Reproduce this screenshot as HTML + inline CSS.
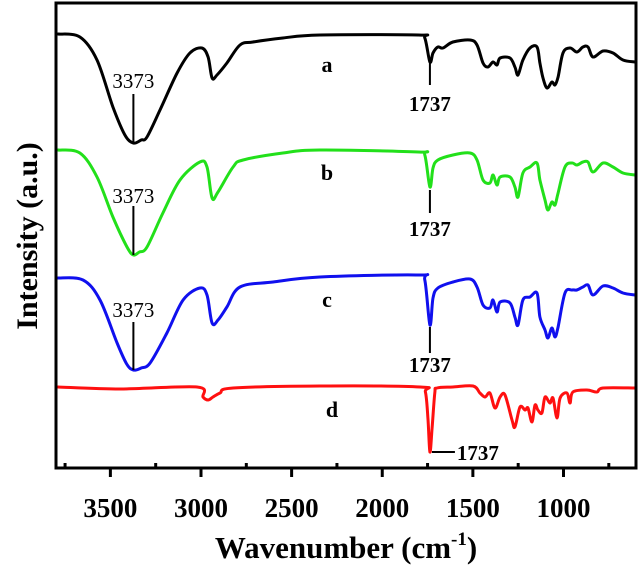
<!DOCTYPE html>
<html><head><meta charset="utf-8">
<style>
html,body{margin:0;padding:0;background:#fff;}
svg{display:block;font-family:"Liberation Serif",serif;}
</style></head>
<body>
<svg id="chart" width="641" height="566" viewBox="0 0 641 566"></svg>
<script>
const xTicks=[3500,3000,2500,2000,1500,1000];
const xTickLabels=["3500","3000","2500","2000","1500","1000"];
const seriesNames=["a","b","c","d"];
const seriesColors=["#000000","#22e01a","#1010ee","#ff1010"];
const seriesA=[[3789,434],[3668,431],[3574,408],[3486,361],[3420,333],[3373,325],[3330,328],[3298,331],[3226,358],[3132,395],[3061,415],[2995,420],[2961,411],[2939,390],[2912,393],[2857,405],[2785,423],[2713,426],[2548,430],[2344,433],[1800,433],[1765,430],[1737,406],[1720,415],[1693,421],[1665,420],[1610,426],[1516,428],[1477,423],[1444,405],[1417,401],[1389,406],[1367,403],[1350,410],[1295,410],[1268,401],[1251,393],[1224,408],[1185,420],[1146,421],[1130,405],[1113,390],[1091,380],[1064,386],[1047,383],[1030,391],[1003,415],[964,420],[926,416],[893,421],[865,421],[837,411],[782,417],[727,415],[672,408],[606,406]];
const seriesB=[[3789,318],[3668,315],[3574,291],[3486,251],[3408,221],[3373,213],[3340,216],[3298,221],[3210,255],[3116,288],[3006,306],[2967,301],[2939,270],[2906,276],[2823,301],[2768,308],[2548,315],[2344,318],[1800,316],[1765,313],[1737,281],[1720,300],[1693,308],[1610,313],[1516,315],[1477,308],[1444,288],[1406,285],[1389,293],[1367,283],[1350,291],[1295,291],[1268,281],[1251,271],[1224,295],[1185,301],[1146,305],[1130,288],[1102,268],[1086,258],[1064,266],[1047,263],[1030,275],[992,301],[953,305],[926,303],[893,306],[865,306],[837,296],[782,305],[727,301],[672,295],[606,293]];
const seriesC=[[3789,190],[3651,188],[3557,168],[3463,125],[3410,104],[3373,98],[3330,100],[3281,105],[3188,135],[3099,168],[3006,180],[2967,173],[2939,145],[2906,148],[2857,161],[2785,181],[2603,186],[2344,191],[1800,193],[1765,188],[1737,143],[1720,170],[1693,180],[1610,186],[1516,189],[1477,181],[1444,163],[1406,160],[1389,168],[1367,156],[1350,166],[1295,165],[1268,151],[1251,143],[1224,168],[1185,171],[1146,175],[1130,151],[1102,138],[1086,130],[1064,140],[1047,131],[1030,141],[992,175],[953,178],[926,178],[893,181],[865,183],[837,173],[782,182],[727,180],[672,175],[606,173]];
const seriesD=[[3789,81],[3447,79],[3022,81],[2989,71],[2961,68],[2934,71],[2895,75],[2823,80],[2344,82],[1790,81],[1762,76],[1748,50],[1737,16],[1725,40],[1710,75],[1698,80],[1610,81],[1499,82],[1461,75],[1433,71],[1406,75],[1378,60],[1350,71],[1323,73],[1284,48],[1268,41],[1240,61],[1212,58],[1196,60],[1174,46],[1157,63],[1141,58],[1119,55],[1102,71],[1075,65],[1058,70],[1036,50],[1019,70],[981,75],[964,65],[948,76],[871,78],[816,76],[782,80],[606,80]];
const allSeries=[seriesA,seriesB,seriesC,seriesD];

const NS="http://www.w3.org/2000/svg";
const svg=document.getElementById('chart');
const L=56,R=636,T=3,B=468;
const X0=3800,X1=600;
function xs(w){return L+(X0-w)/(X0-X1)*(R-L);}
function ys(v){return B-v;}
function mk(tag,attrs,parent){const e=document.createElementNS(NS,tag);for(const k in attrs)e.setAttribute(k,attrs[k]);(parent||svg).appendChild(e);return e;}
function smoothPath(pts){
  let d='M'+pts[0][0].toFixed(1)+','+pts[0][1].toFixed(1);
  for(let i=0;i<pts.length-1;i++){
    const p0=pts[i-1]||pts[i],p1=pts[i],p2=pts[i+1],p3=pts[i+2]||p2;
    const k=1/6;
    const c1x=p1[0]+(p2[0]-p0[0])*k,c1y=p1[1]+(p2[1]-p0[1])*k;
    const c2x=p2[0]-(p3[0]-p1[0])*k,c2y=p2[1]-(p3[1]-p1[1])*k;
    d+=' C'+c1x.toFixed(1)+','+c1y.toFixed(1)+' '+c2x.toFixed(1)+','+c2y.toFixed(1)+' '+p2[0].toFixed(1)+','+p2[1].toFixed(1);
  }
  return d;
}

allSeries.forEach((s,i)=>{
  const pts=s.map(p=>[xs(p[0]),ys(p[1])]);
  const p=mk('path',{d:smoothPath(pts),fill:'none',stroke:seriesColors[i],'stroke-width':3,'stroke-linejoin':'round','stroke-linecap':'round'});
  
  
});

const fr=mk('rect',{x:L,y:T,width:R-L,height:B-T,fill:'none',stroke:'#000','stroke-width':3});



xTicks.forEach((t,i)=>{
  const x=xs(t);
  const tk=mk('line',{x1:x,x2:x,y1:B,y2:B+9,stroke:'#000','stroke-width':3});
  
  
  const tl=mk('text',{x:x,y:517,'text-anchor':'middle','font-size':27,'font-weight':'bold'});
  tl.textContent=xTickLabels[i];
  
  
});
for(let w=3750;w>600;w-=250){
  if(w%500===0)continue;
  const x=xs(w);
  const m=mk('line',{x1:x,x2:x,y1:B,y2:B-5,stroke:'#000','stroke-width':3});
  
  
}

function txt(s,x,y,size,weight,name,anchor){
  const t=mk('text',{x:x,y:y,'font-size':size,'font-weight':weight,'text-anchor':anchor||'middle'});
  t.textContent=s;
  
  
  return t;
}
function ln(x1,y1,x2,y2,name){
  const l=mk('line',{x1:x1,y1:y1,x2:x2,y2:y2,stroke:'#000','stroke-width':2});
  
  
}
const x3373=xs(3373);
[[88,94,143],[203,206,255],[317,322,370]].forEach((a,i)=>{
  txt('3373',x3373,a[0],21,'normal','label-3373-'+seriesNames[i]);
  ln(x3373,a[1],x3373,a[2],'marker-3373-'+seriesNames[i]);
});
const x1737=xs(1737);
[[62,85,111],[190,213,236],[327,353,372]].forEach((a,i)=>{
  ln(x1737,a[0],x1737,a[1],'marker-1737-'+seriesNames[i]);
  txt('1737',x1737,a[2],21,'bold','label-1737-'+seriesNames[i]);
});
ln(x1737+2,452,x1737+25,452,'marker-1737-d');
txt('1737',x1737+27,460,21,'bold','label-1737-d','start');

txt('a',327,72,22,'bold','series-label-a');
txt('b',327,180,22,'bold','series-label-b');
txt('c',327,307,22,'bold','series-label-c');
txt('d',332,417,22,'bold','series-label-d');

const xt=mk('text',{x:346,y:558,'font-size':31,'font-weight':'bold','text-anchor':'middle'});


const t1=mk('tspan',{},xt);t1.textContent='Wavenumber (cm';
const t2=mk('tspan',{'font-size':19,dy:-13},xt);t2.textContent='-1';
const t3=mk('tspan',{dy:13},xt);t3.textContent=')';
const yt=mk('text',{x:0,y:0,'font-size':30,'font-weight':'bold','text-anchor':'middle',transform:'translate(37,236) rotate(-90)'});
yt.textContent='Intensity (a.u.)';


</script>
</body></html>
